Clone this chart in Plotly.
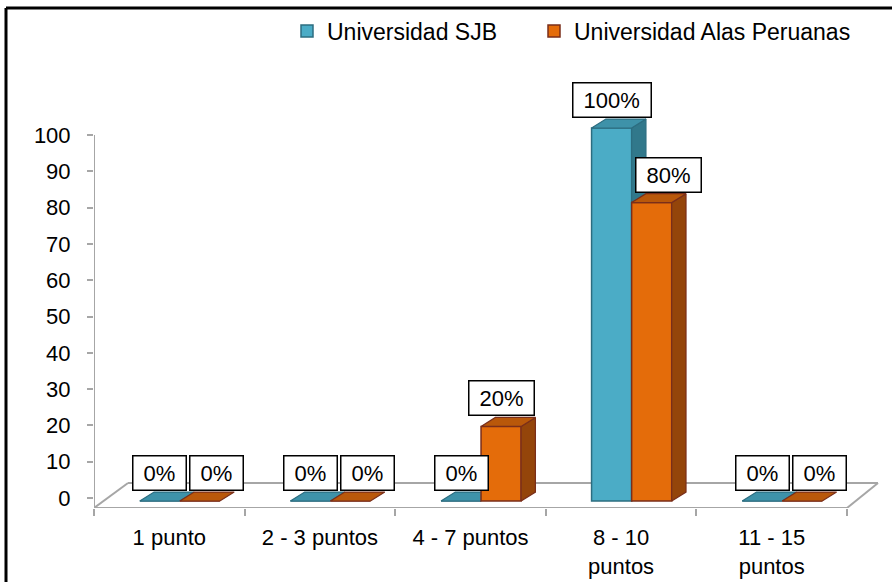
import plotly.graph_objects as go

# ---- data ----
categories = ["1 punto", "2 - 3 puntos", "4 - 7 puntos", "8 - 10<br>puntos", "11 - 15<br>puntos"]
series_names = ["Universidad SJB", "Universidad Alas Peruanas"]
sjb_values = [0, 0, 0, 100, 0]
uap_values = [0, 0, 20, 80, 0]
y_tick_values = [0, 10, 20, 30, 40, 50, 60, 70, 80, 90, 100]

# ---- style ----
FONT = "Liberation Sans, Arial, sans-serif"
FS = 22
GRAY = "#A6A6A6"
styles = [
    dict(front="#4BACC6", top="#3E92A9", side="#31788B", line="#2C6D80", offset=-0.196),
    dict(front="#E46C0A", top="#B9580A", side="#94450A", line="#7A2E1A", offset=0.070),
]
BAR_W = 0.266
DX = 0.095   # 3D depth in x units
DY = 2.4     # 3D depth in bar-axis units

# plot area pixel geometry
L, R, T, B = 94, 880, 110, 508
W, H = 892, 582
CAT_PX = 150.6
x_lo = -0.5
x_hi = -0.5 + (R - L) / CAT_PX
# tick axis: 0 at 498px, 100 at 135px
s1 = (498 - 135) / 100.0
y1_lo = -(B - 498) / s1
y1_hi = 100 + (135 - T) / s1
# bar axis: 0 at 501px, 100 at 128px
s2 = (501 - 128) / 100.0
y2_lo = -(B - 501) / s2
y2_hi = 100 + (128 - T) / s2

fig = go.Figure()
xs = list(range(len(categories)))
all_vals = [sjb_values, uap_values]
yaxes = ["y2", "y3"]
legends = ["legend", "legend2"]

for si, (vals, st, ya, name, lg) in enumerate(zip(all_vals, styles, yaxes, series_names, legends)):
    fig.add_trace(go.Bar(
        x=xs, y=vals, width=[BAR_W] * len(xs), offset=st["offset"],
        marker=dict(color=st["front"], line=dict(color=st["line"], width=1.5)),
        name=name, yaxis=ya, showlegend=True, legend=lg, hoverinfo="skip",
    ))
    side_x, side_y, top_x, top_y = [], [], [], []
    for xi, v in zip(xs, vals):
        x0 = xi + st["offset"]
        x1 = x0 + BAR_W
        if v > 0:
            side_x += [x1, x1 + DX, x1 + DX, x1, x1, None]
            side_y += [0, DY, v + DY, v, 0, None]
        top_x += [x0, x0 + DX, x1 + DX, x1, x0, None]
        top_y += [v, v + DY, v + DY, v, v, None]
    if side_x:
        fig.add_trace(go.Scatter(
            x=side_x, y=side_y, mode="lines", fill="toself", fillcolor=st["side"],
            line=dict(color=st["line"], width=1.2), yaxis=ya, showlegend=False, hoverinfo="skip",
        ))
    fig.add_trace(go.Scatter(
        x=top_x, y=top_y, mode="lines", fill="toself", fillcolor=st["top"],
        line=dict(color=st["line"], width=1.2), yaxis=ya, showlegend=False, hoverinfo="skip",
    ))

# data labels
annotations = []
for si, (vals, st) in enumerate(zip(all_vals, styles)):
    for xi, v in enumerate(vals):
        xshift = 0
        if si == 1 and sjb_values[xi] >= v:
            xshift = 17
        annotations.append(dict(
            x=xi + st["offset"] + BAR_W / 2, y=v + DY, xref="x", yref="y2",
            text="\u00a0" + f"{v}%" + "\u00a0", showarrow=False,
            xanchor="center", yanchor="bottom", xshift=xshift, yshift=1,
            font=dict(family=FONT, size=FS, color="#000000"),
            bgcolor="#FFFFFF", bordercolor="#000000", borderwidth=1.5, borderpad=4,
        ))

# floor / axes decoration
fx = 34 / CAT_PX
front_y = y1_lo
back_y = (498 - 483) / s1
shapes = [
    dict(type="line", xref="x", yref="y", x0=x_lo, x1=x_lo, y0=front_y, y1=100,
         line=dict(color=GRAY, width=2), layer="below"),
    dict(type="line", xref="x", yref="y", x0=x_lo, x1=len(categories) - 0.5, y0=front_y, y1=front_y,
         line=dict(color=GRAY, width=2), layer="below"),
    dict(type="line", xref="x", yref="y", x0=x_lo, x1=x_lo + fx, y0=front_y, y1=back_y,
         line=dict(color=GRAY, width=2), layer="below"),
    dict(type="line", xref="x", yref="y", x0=x_lo + fx, x1=len(categories) - 0.5 + 31 / CAT_PX,
         y0=back_y, y1=back_y, line=dict(color=GRAY, width=2), layer="below"),
    dict(type="line", xref="x", yref="y", x0=len(categories) - 0.5, x1=len(categories) - 0.5 + 31 / CAT_PX,
         y0=front_y, y1=back_y, line=dict(color=GRAY, width=2), layer="below"),
    # outer black frame (left and top)
    dict(type="line", xref="paper", yref="paper",
         x0=(6 - L) / (R - L), x1=(6 - L) / (R - L), y0=(B - 8) / (B - T), y1=(B - 600) / (B - T),
         line=dict(color="#000000", width=3)),
    dict(type="line", xref="paper", yref="paper",
         x0=(6 - L) / (R - L), x1=(900 - L) / (R - L), y0=(B - 8) / (B - T), y1=(B - 8) / (B - T),
         line=dict(color="#000000", width=3)),
]

edges = [i - 0.5 for i in range(len(categories) + 1)]

legend_common = dict(
    orientation="h", xanchor="left", y=(B - 31) / (B - T), yanchor="middle",
    font=dict(family=FONT, size=23, color="#000000"),
    bgcolor="rgba(0,0,0,0)", borderwidth=0,
    itemclick=False, itemdoubleclick=False,
)

fig.update_layout(
    width=W, height=H,
    margin=dict(l=L, r=W - R, t=T, b=H - B, pad=0, autoexpand=False),
    paper_bgcolor="#FFFFFF", plot_bgcolor="#FFFFFF",
    font=dict(family=FONT, size=FS, color="#000000"),
    barmode="overlay",
    showlegend=True,
    legend=dict(x=(287 - L) / (R - L), **legend_common),
    legend2=dict(x=(534 - L) / (R - L), **legend_common),
    xaxis=dict(
        range=[x_lo, x_hi], tickvals=xs, ticktext=categories, ticks="",
        showgrid=False, zeroline=False, showline=False, fixedrange=True, automargin=False,
        tickfont=dict(family=FONT, size=FS, color="#000000"),
        ticklabelstandoff=14,
        minor=dict(tickvals=edges, ticks="outside", ticklen=7, tickcolor=GRAY, tickwidth=2, showgrid=False),
    ),
    yaxis=dict(
        range=[y1_lo, y1_hi], tickvals=y_tick_values, ticks="outside", ticklen=6,
        tickcolor=GRAY, tickwidth=2, showgrid=False, zeroline=False, showline=False,
        tickfont=dict(family=FONT, size=FS, color="#000000"), fixedrange=True, automargin=False,
        ticklabelstandoff=12,
    ),
    yaxis2=dict(range=[y2_lo, y2_hi], overlaying="y", visible=False, fixedrange=True),
    yaxis3=dict(range=[y2_lo, y2_hi], overlaying="y", visible=False, fixedrange=True),
    shapes=shapes,
    annotations=annotations,
)

fig.write_html("out.html")
